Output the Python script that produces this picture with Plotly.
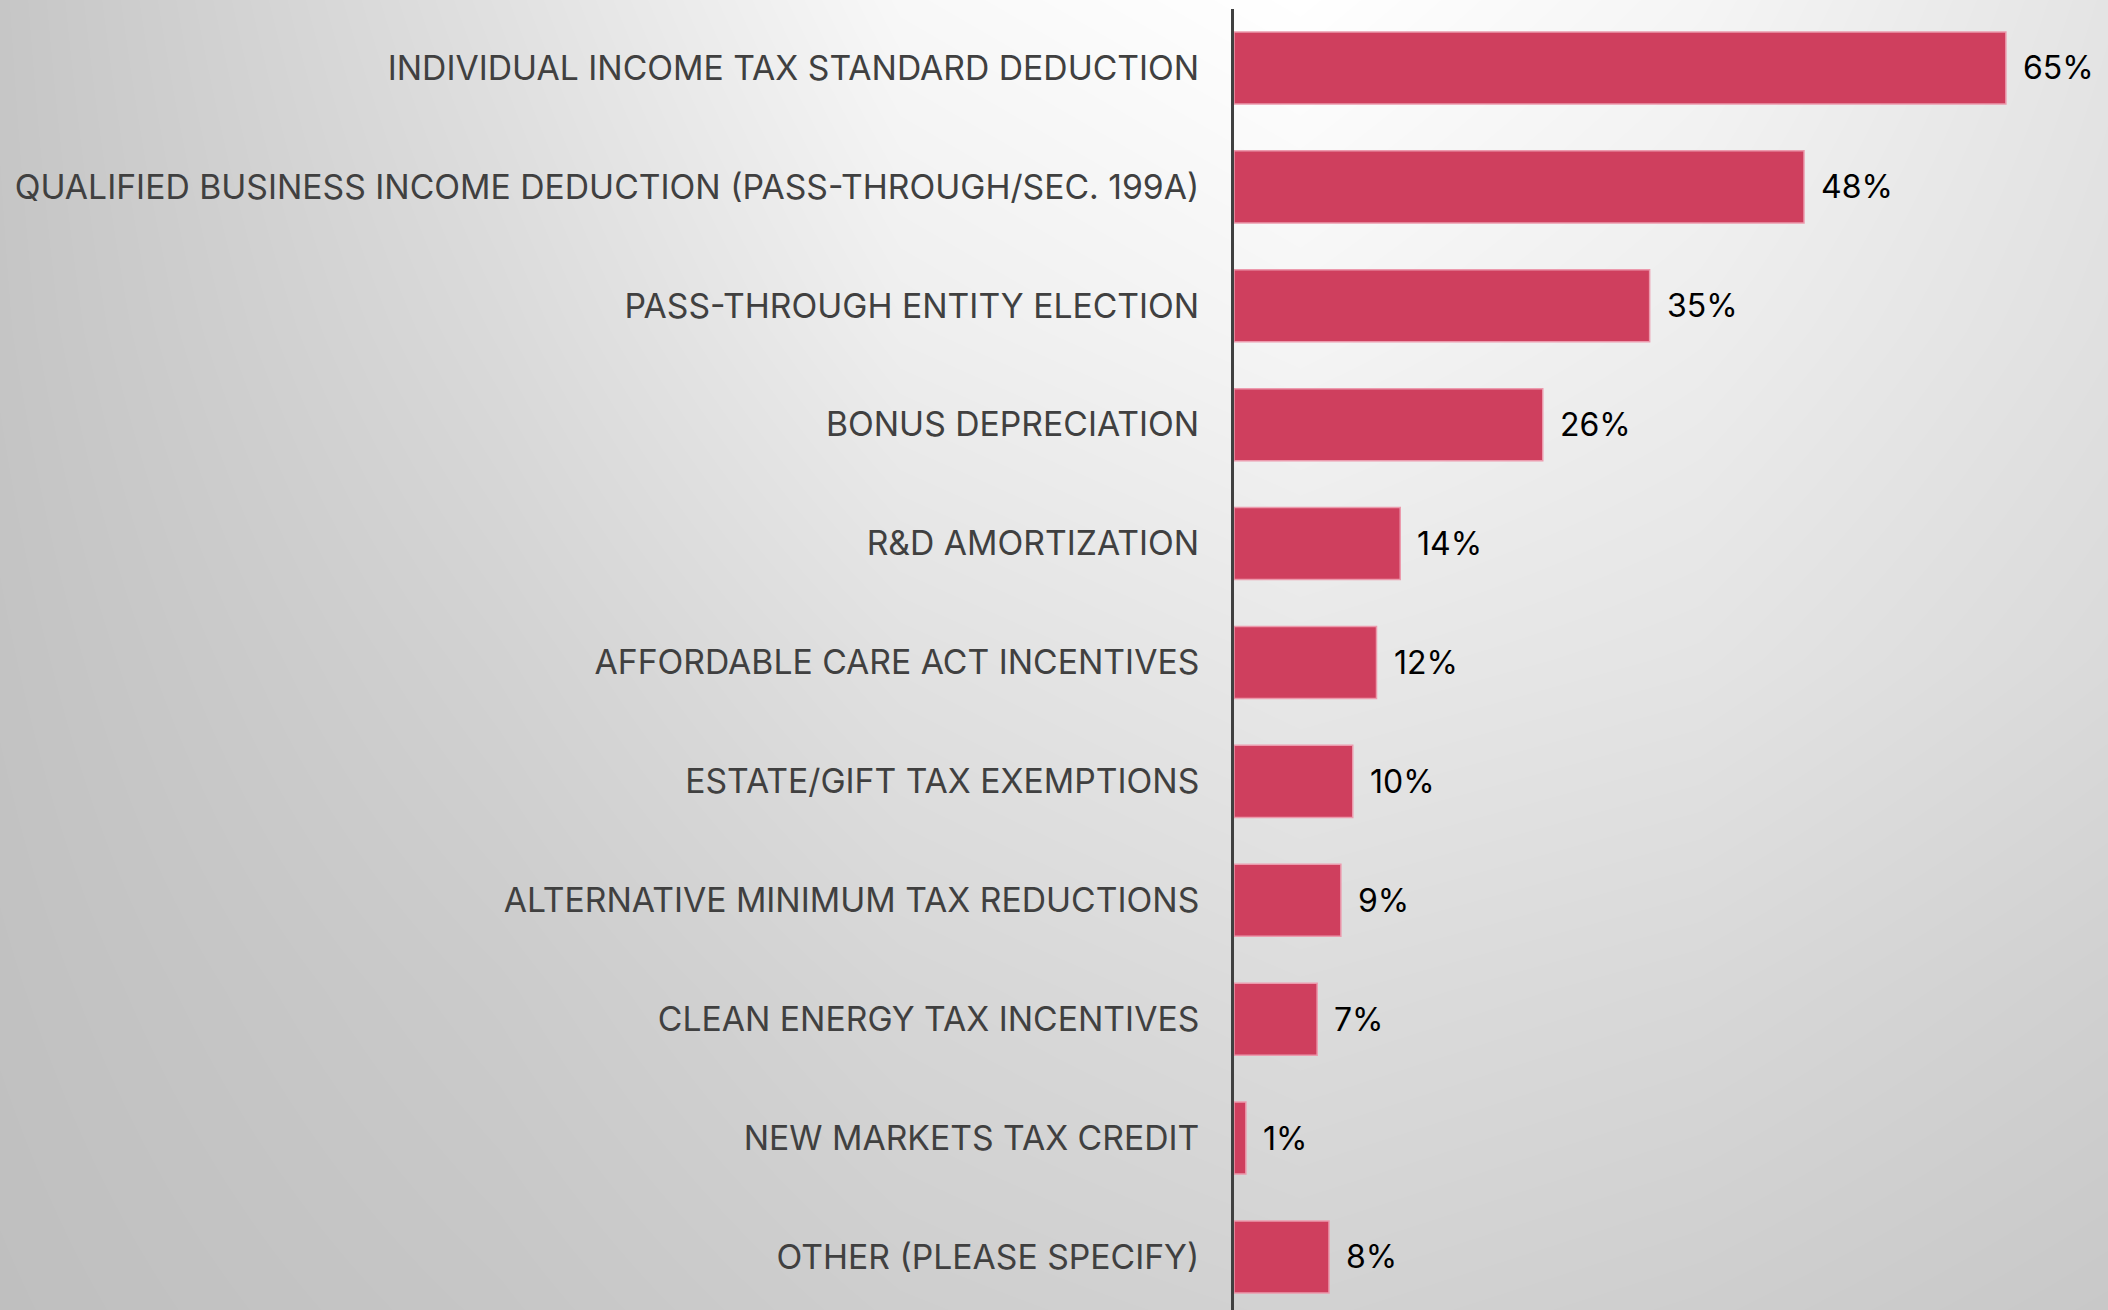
import plotly.graph_objects as go

# ---- data ----
categories = [
    "INDIVIDUAL INCOME TAX STANDARD DEDUCTION",
    "QUALIFIED BUSINESS INCOME DEDUCTION (PASS-THROUGH/SEC. 199A)",
    "PASS-THROUGH ENTITY ELECTION",
    "BONUS DEPRECIATION",
    "R&D AMORTIZATION",
    "AFFORDABLE CARE ACT INCENTIVES",
    "ESTATE/GIFT TAX EXEMPTIONS",
    "ALTERNATIVE MINIMUM TAX REDUCTIONS",
    "CLEAN ENERGY TAX INCENTIVES",
    "NEW MARKETS TAX CREDIT",
    "OTHER (PLEASE SPECIFY)",
]
values = [65, 48, 35, 26, 14, 12, 10, 9, 7, 1, 8]
value_labels = [f"{v}%" for v in values]

# ---- background gradient control grid (styling) ----
W, H = 2108, 1310
bg_x = [0, 500, 900, 1300, 1700, 2108]
bg_y = [0, 330, 660, 990, 1310]
bg_z = [
    [198, 225, 248, 255, 245, 228],
    [197, 218, 238, 245, 237, 224],
    [195, 210, 225, 232, 228, 218],
    [193, 203, 214, 220, 216, 208],
    [191, 198, 206, 210, 206, 200],
]

FONT = "Inter"
BAR_COLOR = "#CF3F5E"

fig = go.Figure()

fig.add_trace(go.Heatmap(
    x=bg_x, y=bg_y, z=bg_z, zsmooth="best",
    colorscale=[[0, "rgb(0,0,0)"], [1, "rgb(255,255,255)"]],
    zmin=0, zmax=255, showscale=False, hoverinfo="skip",
    xaxis="x", yaxis="y",
))

fig.add_trace(go.Bar(
    x=values, y=categories, orientation="h",
    marker=dict(color=BAR_COLOR, line=dict(color="#EC9AAD", width=1.5)),
    xaxis="x2", yaxis="y2", hoverinfo="skip",
))

annotations = []
for c, v, t in zip(categories, values, value_labels):
    annotations.append(dict(
        x=v, y=c, xref="x2", yref="y2", text=t, showarrow=False,
        xanchor="left", yanchor="middle", xshift=15,
        font=dict(family=FONT, size=32, color="#000000"),
    ))

fig.update_layout(
    width=W, height=H,
    margin=dict(l=0, r=0, t=0, b=0),
    paper_bgcolor="#ffffff",
    plot_bgcolor="rgba(0,0,0,0)",
    showlegend=False,
    bargap=0.394,
    annotations=annotations,
    xaxis=dict(domain=[0, 1], range=[0, W], visible=False, fixedrange=True),
    yaxis=dict(domain=[0, 1], range=[H, 0], visible=False, fixedrange=True),
    xaxis2=dict(domain=[1234 / W, 1], range=[0, 73.6], visible=False,
                anchor="y2", fixedrange=True),
    yaxis2=dict(domain=[0, 1301 / H], range=[10.446, -0.496], anchor="x2",
                type="category", showline=True, linecolor="#404040", linewidth=3,
                showgrid=False, zeroline=False, ticks="", automargin=False,
                ticklabelstandoff=25,
                tickfont=dict(family=FONT, size=33.7, color="#404040")),
)

fig.write_html(
    "out.html",
    config={"displayModeBar": False, "staticPlot": True},
    post_script="document.body.style.margin='0';document.body.style.padding='0';"
                "document.body.style.overflow='hidden';",
)
